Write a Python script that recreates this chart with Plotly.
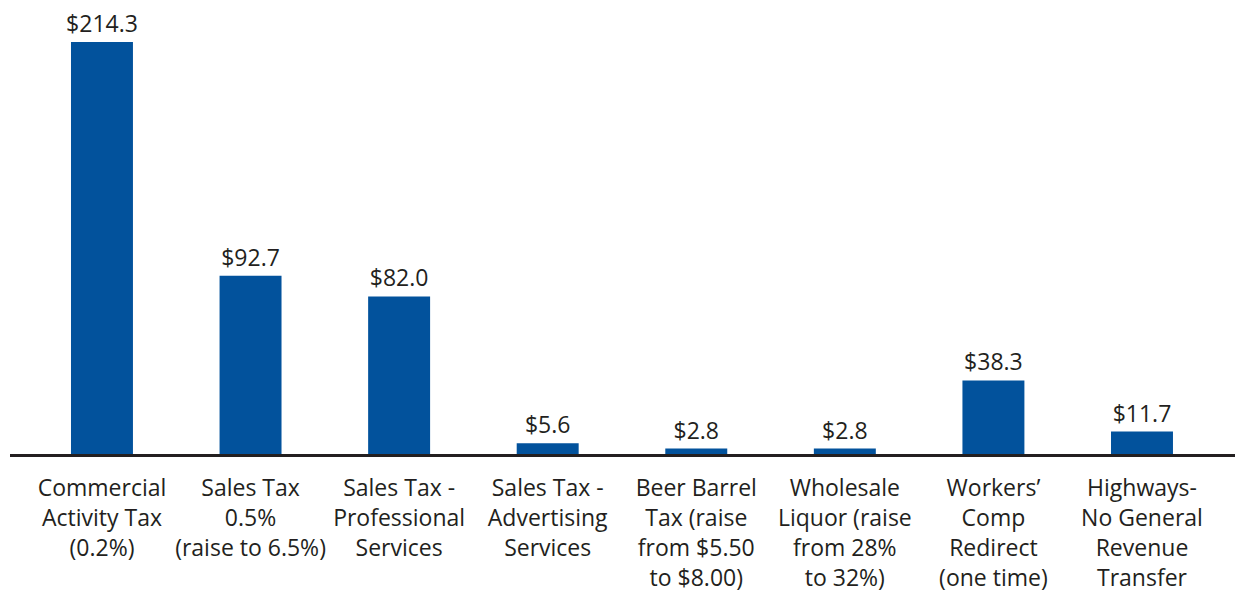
import plotly.graph_objects as go

categories = [
    "Commercial<br>Activity Tax<br>(0.2%)",
    "Sales Tax<br>0.5%<br>(raise to 6.5%)",
    "Sales Tax -<br>Professional<br>Services",
    "Sales Tax -<br>Advertising<br>Services",
    "Beer Barrel<br>Tax (raise<br>from $5.50<br>to $8.00)",
    "Wholesale<br>Liquor (raise<br>from 28%<br>to 32%)",
    "Workers’<br>Comp<br>Redirect<br>(one time)",
    "Highways-<br>No General<br>Revenue<br>Transfer",
]
values = [214.3, 92.7, 82.0, 5.6, 2.8, 2.8, 38.3, 11.7]
value_labels = ["$214.3", "$92.7", "$82.0", "$5.6", "$2.8", "$2.8", "$38.3", "$11.7"]

BAR_COLOR = "#02529C"
TEXT_COLOR = "#231F20"
FONT = "Open Sans, Lato, sans-serif"

x = list(range(len(categories)))

fig = go.Figure(
    go.Bar(
        x=x,
        y=values,
        width=0.417,
        marker=dict(color=BAR_COLOR, line=dict(width=0)),
        text=value_labels,
        textposition="outside",
        constraintext="none",
        cliponaxis=False,
        textfont=dict(size=23, color=TEXT_COLOR, family=FONT),
        hoverinfo="skip",
    )
)

fig.update_layout(
    width=1235,
    height=594,
    margin=dict(l=10, r=0, t=0, b=140),
    paper_bgcolor="white",
    plot_bgcolor="white",
    showlegend=False,
    font=dict(family=FONT, color=TEXT_COLOR, size=23),
)

fig.update_xaxes(
    tickmode="array",
    tickvals=x,
    ticktext=categories,
    range=[-0.619, 7.626],
    showgrid=False,
    zeroline=False,
    showline=True,
    linecolor=TEXT_COLOR,
    linewidth=2.5,
    ticks="",
    ticklabelstandoff=12,
    tickfont=dict(size=23, color=TEXT_COLOR, family=FONT),
    fixedrange=True,
)
fig.update_yaxes(
    range=[0, 236.2],
    visible=False,
    showgrid=False,
    zeroline=False,
    fixedrange=True,
)

fig.write_html("out.html")
